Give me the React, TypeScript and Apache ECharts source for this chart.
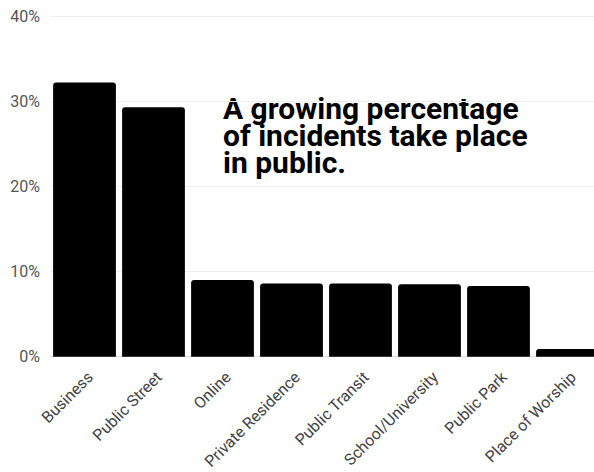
import React, { useEffect, useRef } from "react";
import * as echarts from "echarts";

const categories = [
  "Business",
  "Public Street",
  "Online",
  "Private Residence",
  "Public Transit",
  "School/University",
  "Public Park",
  "Place of Worship",
];
const values = [32.2, 29.3, 9.0, 8.6, 8.6, 8.5, 8.3, 0.9];
const annotationLines = ["A growing percentage", "of incidents take place", "in public."];

export default function App() {
  const ref = useRef<HTMLDivElement>(null);
  useEffect(() => {
    const chart = echarts.init(ref.current!, undefined, { renderer: "svg" });
    chart.setOption({
      animation: false,
      backgroundColor: "#ffffff",
      grid: { left: 50, right: 0, top: 16, bottom: 113, containLabel: false },
      xAxis: {
        type: "category",
        data: categories,
        axisTick: { show: false },
        axisLine: { show: true, lineStyle: { color: "#dddddd" } },
        axisLabel: {
          interval: 0,
          rotate: 45,
          margin: 12,
          verticalAlign: "top",
          fontSize: 16,
          color: "#444",
          fontFamily: "Roboto",
        },
      },
      yAxis: {
        type: "value",
        min: 0,
        max: 40,
        interval: 10,
        axisLabel: {
          formatter: "{value}%",
          fontSize: 16,
          color: "#555",
          margin: 10,
          fontFamily: "Roboto",
        },
        splitLine: { lineStyle: { color: "#eeeeee" } },
        axisLine: { show: false },
        axisTick: { show: false },
      },
      series: [
        {
          type: "bar",
          data: values,
          barCategoryGap: "9%",
          itemStyle: { color: "#000000", borderRadius: [3, 3, 0, 0] },
        },
      ],
      graphic: [
        {
          type: "text",
          left: 223,
          top: 93,
          style: {
            text: annotationLines.join("\n"),
            fontSize: 30,
            fontWeight: "bold",
            fontFamily: "Roboto",
            fill: "#000",
            lineHeight: 27,
          },
        },
      ],
    });
    return () => chart.dispose();
  }, []);
  return (
    <div style={{ position: "absolute", left: 0, top: 0, width: 594, height: 472, overflow: "hidden" }}>
      <div ref={ref} style={{ width: 602, height: 472 }} />
    </div>
  );
}
